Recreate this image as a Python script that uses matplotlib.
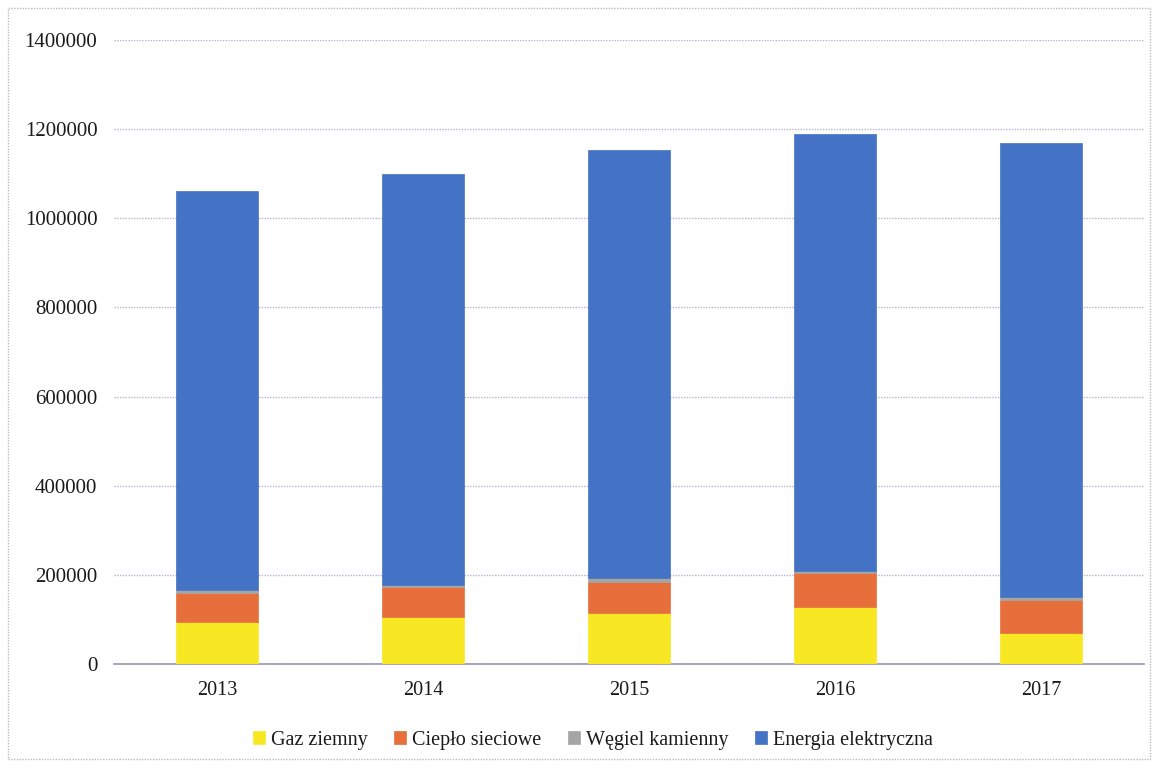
import matplotlib
matplotlib.use("Agg")
import matplotlib.pyplot as plt
from matplotlib.patches import Rectangle

years = ["2013", "2014", "2015", "2016", "2017"]
gaz_ziemny = [94000, 105400, 114300, 127800, 69500]
cieplo_sieciowe = [65000, 67000, 69500, 76200, 74000]
wegiel_kamienny = [6700, 4500, 9000, 4500, 6700]
energia_elektryczna = [894800, 921700, 959600, 979800, 1017900]
y_ticks = [0, 200000, 400000, 600000, 800000, 1000000, 1200000, 1400000]

series = [
    ("Gaz ziemny", gaz_ziemny, "#F8E824"),
    ("Ciepło sieciowe", cieplo_sieciowe, "#E66F3C"),
    ("Węgiel kamienny", wegiel_kamienny, "#A5A5A5"),
    ("Energia elektryczna", energia_elektryczna, "#4472C4"),
]

plt.rcParams['font.family'] = ['Liberation Serif', 'DejaVu Serif']

fig = plt.figure(figsize=(11.58, 7.67), dpi=100)
ax = fig.add_axes([114/1158, 1-664/767, (1144-114)/1158, (664-40)/767])

x = list(range(len(years)))
bottom = [0]*len(years)
for name, vals, color in series:
    ax.bar(x, vals, width=0.4, bottom=bottom, color=color, label=name, zorder=3,
           edgecolor=color, linewidth=0.5)
    bottom = [b+v for b, v in zip(bottom, vals)]

ax.set_ylim(0, 1400000)
ax.set_xlim(-0.5, len(years)-0.5)
ax.set_yticks(y_ticks)
ax.set_yticklabels([str(t) for t in y_ticks], fontsize=15, color="#1a1a1a")
ax.set_xticks(x)
ax.set_xticklabels(years, fontsize=14.5, color="#1a1a1a")
ax.tick_params(length=0, pad=12, axis='y')
ax.tick_params(length=0, pad=12, axis='x')
ax.yaxis.grid(True, color="#B9B3CF", linestyle=(0, (1, 1)), linewidth=1.0, zorder=0)
for s in ["top", "right", "left"]:
    ax.spines[s].set_visible(False)
ax.spines["bottom"].set_color("#9A93B8")
ax.spines["bottom"].set_linestyle((0, (1, 1)))
ax.spines["bottom"].set_linewidth(1.2)

leg = fig.legend(loc="center", bbox_to_anchor=(593/1158, 1-740/767), ncol=4,
                 frameon=False, fontsize=14.5, handlelength=0.6, handleheight=0.6,
                 handletextpad=0.3, columnspacing=1.3)
for t in leg.get_texts():
    t.set_color("#1a1a1a")

fig.patches.append(Rectangle((8/1158, 8/767), 1-16/1158, 1-16/767,
                             transform=fig.transFigure, fill=False,
                             edgecolor="#BBBBBB", linestyle=(0, (1, 1)), linewidth=1.0))

fig.savefig("out.png", dpi=100)
